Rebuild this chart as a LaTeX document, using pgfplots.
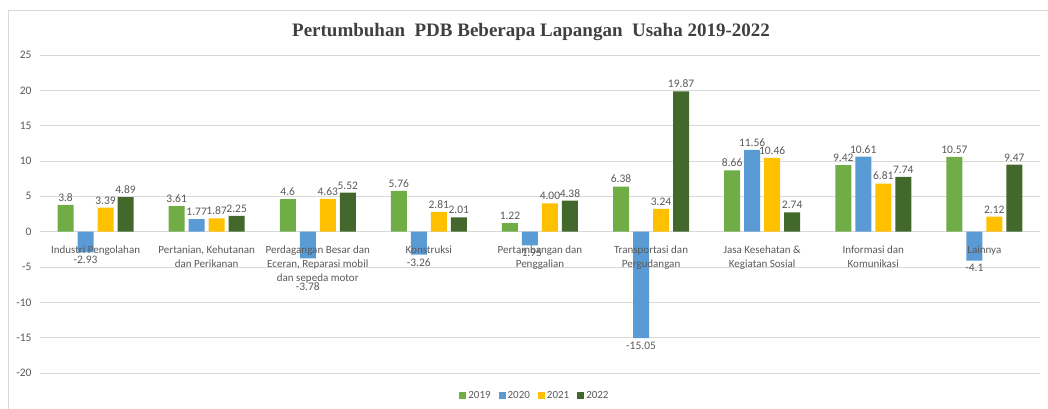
\documentclass[border=0pt]{standalone}
\usepackage{pgfplots}
\pgfplotsset{compat=1.18}
\usepackage{pgfplotstable}
\usepackage{fontspec}
\setmainfont{Carlito}
\newfontfamily\titlefont{Liberation Serif}
\definecolor{txt}{HTML}{595959}
\definecolor{ttl}{HTML}{404040}
\definecolor{gridc}{HTML}{D9D9D9}
\definecolor{cA}{HTML}{70AD47}
\definecolor{cB}{HTML}{5B9BD5}
\definecolor{cC}{HTML}{FFC000}
\definecolor{cD}{HTML}{43682B}

\pgfplotsset{
  basebox/.style={
    at={(40pt,-373pt)}, anchor=south west,
    width=1000pt, height=318pt, scale only axis,
    clip=false,
    xmin=-0.5, xmax=8.5, ymin=-20, ymax=25,
    axis line style={draw=none},
    major tick length=0pt,
    /pgf/number format/assume math mode=true,
  },
}

\pgfplotstableread{
x y lab
0 3.8 3.8
1 3.61 3.61
2 4.6 4.6
3 5.76 5.76
4 1.22 1.22
5 6.38 6.38
6 8.66 8.66
7 9.42 9.42
8 10.57 10.57
}\tA
\pgfplotstableread{
x y lab
0 -2.93 -2.93
1 1.77 1.77
2 -3.78 -3.78
3 -3.26 -3.26
4 -1.95 -1.95
5 -15.05 -15.05
6 11.56 11.56
7 10.61 10.61
8 -4.1 -4.1
}\tB
\pgfplotstableread{
x y lab
0 3.39 3.39
1 1.87 1.87
2 4.63 4.63
3 2.81 2.81
4 4.00 4.00
5 3.24 3.24
6 10.46 10.46
7 6.81 6.81
8 2.12 2.12
}\tC
\pgfplotstableread{
x y lab
0 4.89 4.89
1 2.25 2.25
2 5.52 5.52
3 2.01 2.01
4 4.38 4.38
5 19.87 19.87
6 2.74 2.74
7 7.74 7.74
8 9.47 9.47
}\tD

\begin{document}
\begin{tikzpicture}
\useasboundingbox (0pt,0pt) rectangle (1048pt,-409pt);
\draw[gridc, line width=0.8pt] (8pt,-415pt) -- (8pt,-10pt) -- (1055pt,-10pt);
\node[font=\titlefont\bfseries\fontsize{19}{22}\selectfont, text=ttl] at (531pt,-32pt) {Pertumbuhan\ \ PDB Beberapa Lapangan\ \ Usaha 2019-2022};
\begin{axis}[
  basebox,
  ytick={-20,-15,...,25},
  xtick=\empty,
  yticklabel style={font=\fontsize{11.5}{13}\selectfont, text=txt, xshift=-5pt},
  ymajorgrids, grid style={gridc, line width=0.9pt},
  ybar=4pt, bar width=16pt,
  point meta=explicit symbolic,
  nodes near coords,
  visualization depends on={rawy \as \rawy},
  every node near coord/.append style={font=\fontsize{11.5}{13}\selectfont, text=txt,
     /utils/exec={\ifdim\rawy pt<0pt \def\myanc{north}\else\def\myanc{south}\fi
                  \def\mydy{0pt}\ifdim\rawy pt<-3.7pt \ifdim\rawy pt>-3.8pt \def\mydy{-21pt}\fi\fi},
     anchor=\myanc, yshift=\mydy},
  legend style={at={(0.495,-0.072)}, anchor=center, legend columns=4, draw=none, fill=none, font=\fontsize{11}{13}\selectfont, text=txt, /tikz/every even column/.append style={column sep=6pt}},
  legend image code/.code={\fill[#1] (0pt,-3.5pt) rectangle (7pt,3.5pt);},
]
\addplot[fill=cA, draw=none] table[x=x, y=y, meta=lab] {\tA};
\addplot[fill=cB, draw=none] table[x=x, y=y, meta=lab] {\tB};
\addplot[fill=cC, draw=none] table[x=x, y=y, meta=lab] {\tC};
\addplot[fill=cD, draw=none] table[x=x, y=y, meta=lab] {\tD};
\legend{2019,2020,2021,2022}
\end{axis}
\begin{axis}[
  basebox,
  ytick=\empty,
  xtick={0,...,8},
  xticklabels={{Industri Pengolahan},{Pertanian, Kehutanan\\dan Perikanan},{Perdagangan Besar dan\\Eceran, Reparasi mobil\\dan sepeda motor},{Konstruksi},{Pertambangan dan\\Penggalian},{Transportasi dan\\Pergudangan},{Jasa Kesehatan \&\\Kegiatan Sosial},{Informasi dan\\Komunikasi},{Lainnya}},
  xticklabel style={align=center, font=\fontsize{11}{14}\selectfont, text=txt, yshift=131pt, anchor=north},
]
\end{axis}
\end{tikzpicture}
\end{document}
